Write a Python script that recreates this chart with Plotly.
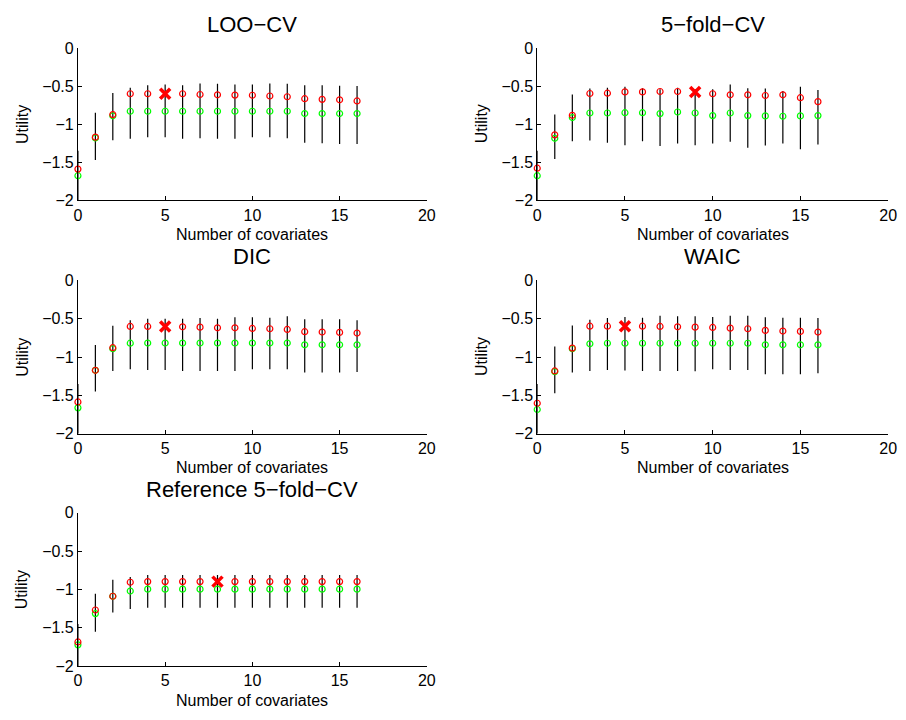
import plotly.graph_objects as go

W, H = 906, 720
FONT = "Liberation Sans, Arial, sans-serif"

n_cov = list(range(17))

# ---- LOO-CV ----
loo_red = [-1.59, -1.17, -0.874, -0.60, -0.60, -0.60, -0.60, -0.61, -0.614, -0.618,
           -0.62, -0.63, -0.64, -0.665, -0.674, -0.68, -0.695]
loo_green = [-1.676, -1.18, -0.89, -0.83, -0.83, -0.83, -0.83, -0.83, -0.83, -0.83,
             -0.83, -0.83, -0.83, -0.86, -0.86, -0.86, -0.86]
loo_hi = [-1.35, -0.85, -0.59, -0.52, -0.49, -0.48, -0.49, -0.465, -0.47, -0.48,
          -0.48, -0.465, -0.47, -0.49, -0.49, -0.495, -0.50]
loo_lo = [-2.0, -1.47, -1.21, -1.19, -1.17, -1.17, -1.19, -1.185, -1.19, -1.19,
          -1.17, -1.17, -1.185, -1.245, -1.25, -1.26, -1.26]
loo_best = 5

# ---- 5-fold-CV ----
kf_red = [-1.578, -1.14, -0.883, -0.597, -0.593, -0.576, -0.576, -0.571, -0.571, -0.576,
          -0.60, -0.614, -0.614, -0.623, -0.614, -0.652, -0.704]
kf_green = [-1.676, -1.185, -0.913, -0.853, -0.853, -0.849, -0.849, -0.861, -0.84, -0.853,
            -0.887, -0.853, -0.887, -0.891, -0.896, -0.891, -0.887]
kf_hi = [-1.35, -0.874, -0.61, -0.533, -0.52, -0.507, -0.529, -0.542, -0.52, -0.542,
         -0.542, -0.478, -0.529, -0.533, -0.563, -0.507, -0.55]
kf_lo = [-2.0, -1.458, -1.224, -1.215, -1.245, -1.275, -1.224, -1.288, -1.254, -1.275,
         -1.254, -1.232, -1.309, -1.279, -1.254, -1.33, -1.266]
kf_best = 9

# ---- DIC ----
dic_red = [-1.586, -1.173, -0.878, -0.601, -0.601, -0.601, -0.605, -0.61, -0.618, -0.618,
           -0.627, -0.631, -0.64, -0.669, -0.674, -0.678, -0.687]
dic_green = [-1.663, -1.173, -0.891, -0.819, -0.817, -0.817, -0.817, -0.817, -0.817, -0.817,
             -0.817, -0.817, -0.817, -0.84, -0.84, -0.84, -0.84]
dic_hi = [-1.35, -0.844, -0.593, -0.52, -0.499, -0.499, -0.499, -0.49, -0.499, -0.482,
          -0.482, -0.486, -0.469, -0.507, -0.507, -0.507, -0.52]
dic_lo = [-2.0, -1.45, -1.181, -1.16, -1.168, -1.168, -1.181, -1.181, -1.181, -1.181,
          -1.16, -1.16, -1.16, -1.203, -1.203, -1.203, -1.194]
dic_best = 5

# ---- WAIC ----
waic_red = [-1.603, -1.181, -0.883, -0.597, -0.597, -0.597, -0.597, -0.601, -0.605, -0.61,
            -0.614, -0.623, -0.631, -0.652, -0.661, -0.665, -0.674]
waic_green = [-1.684, -1.19, -0.891, -0.827, -0.82, -0.82, -0.82, -0.82, -0.82, -0.82,
              -0.82, -0.82, -0.82, -0.84, -0.84, -0.84, -0.84]
waic_hi = [-1.35, -0.861, -0.588, -0.512, -0.49, -0.478, -0.486, -0.46, -0.469, -0.469,
           -0.478, -0.46, -0.46, -0.482, -0.486, -0.486, -0.49]
waic_lo = [-2.0, -1.471, -1.203, -1.181, -1.168, -1.177, -1.181, -1.181, -1.181, -1.186,
           -1.16, -1.168, -1.168, -1.224, -1.224, -1.224, -1.211]
waic_best = 5

# ---- Reference 5-fold-CV ----
ref_red = [-1.685, -1.268, -1.089, -0.906] + [-0.898] * 13
ref_green = [-1.723, -1.315, -1.089, -1.021] + [-0.996] * 13
ref_hi = [-1.45, -1.055, -0.872, -0.838] + [-0.813] * 13
ref_lo = [-2.0, -1.553, -1.302, -1.255] + [-1.238] * 13
ref_best = 8

panel_titles = ["LOO\u2212CV", "5\u2212fold\u2212CV", "DIC", "WAIC", "Reference 5\u2212fold\u2212CV"]
x_title = "Number of covariates"
y_title = "Utility"
x_ticks = [0, 5, 10, 15, 20]
y_ticks = [-2, -1.5, -1, -0.5, 0]

panels = [
    (loo_red, loo_green, loo_lo, loo_hi, loo_best),
    (kf_red, kf_green, kf_lo, kf_hi, kf_best),
    (dic_red, dic_green, dic_lo, dic_hi, dic_best),
    (waic_red, waic_green, waic_lo, waic_hi, waic_best),
    (ref_red, ref_green, ref_lo, ref_hi, ref_best),
]

# plot-area boxes in pixels: (left, right, top, bottom)
col_px = [(75, 429), (541, 897)]
row_px = [(41, 197), (279, 436), (517, 674)]

fig = go.Figure()
annotations = []
layout_axes = {}

for i, (red, green, lo, hi, best) in enumerate(panels):
    r, c = divmod(i, 2)
    left, right = col_px[c]
    top, bottom = row_px[r]
    k = "" if i == 0 else str(i + 1)
    xa, ya = "x" + k, "y" + k

    # interval bars
    bx, by = [], []
    for xv, l, h in zip(n_cov, lo, hi):
        bx += [xv, xv, None]
        by += [l, h, None]
    fig.add_trace(go.Scatter(x=bx, y=by, mode="lines", xaxis=xa, yaxis=ya,
                             line=dict(color="black", width=1.2),
                             showlegend=False, hoverinfo="skip"))
    # green circles
    fig.add_trace(go.Scatter(x=n_cov, y=green, mode="markers", xaxis=xa, yaxis=ya,
                             marker=dict(symbol="circle-open", size=6,
                                         color="#00ff00", line=dict(width=1.2)),
                             cliponaxis=False, showlegend=False))
    # red circles (all but the selected model)
    rx = [xv for xv in n_cov if xv != best]
    ry = [red[xv] for xv in rx]
    fig.add_trace(go.Scatter(x=rx, y=ry, mode="markers", xaxis=xa, yaxis=ya,
                             marker=dict(symbol="circle-open", size=6,
                                         color="#ff0000", line=dict(width=1.2)),
                             cliponaxis=False, showlegend=False))
    # selected model
    fig.add_trace(go.Scatter(x=[best], y=[red[best]], mode="markers", xaxis=xa, yaxis=ya,
                             marker=dict(symbol="x-thin-open", size=10,
                                         color="#ff0000", line=dict(width=3.5, color="#ff0000")),
                             cliponaxis=False, showlegend=False))

    axis_common = dict(showline=True, linecolor="black", linewidth=1, mirror=False,
                       ticks="inside", ticklen=4, tickcolor="black", tickwidth=1,
                       showgrid=False, zeroline=False,
                       tickfont=dict(family=FONT, size=16, color="black"))
    layout_axes["xaxis" + k] = dict(axis_common, domain=[left / W, right / W],
                                    range=[0, 20], tickvals=x_ticks, anchor=ya)
    layout_axes["yaxis" + k] = dict(axis_common, domain=[1 - bottom / H, 1 - top / H],
                                    range=[-2, 0], tickvals=y_ticks, anchor=xa)

    cx = (left + right) / 2 / W
    annotations.append(dict(text=panel_titles[i], x=cx, y=1 - (top - 24) / H,
                            xref="paper", yref="paper", xanchor="center", yanchor="middle",
                            showarrow=False, font=dict(family=FONT, size=22, color="black")))
    annotations.append(dict(text=x_title, x=cx, y=1 - (bottom + 35) / H,
                            xref="paper", yref="paper", xanchor="center", yanchor="middle",
                            showarrow=False, font=dict(family=FONT, size=16, color="black")))
    annotations.append(dict(text=y_title, x=(left - 57) / W, y=1 - (top + bottom) / 2 / H,
                            xref="paper", yref="paper", xanchor="center", yanchor="middle",
                            textangle=-90, showarrow=False,
                            font=dict(family=FONT, size=16, color="black")))

fig.update_layout(width=W, height=H, margin=dict(l=0, r=0, t=0, b=0),
                  paper_bgcolor="white", plot_bgcolor="white",
                  annotations=annotations, **layout_axes)

fig.write_html("out.html")
